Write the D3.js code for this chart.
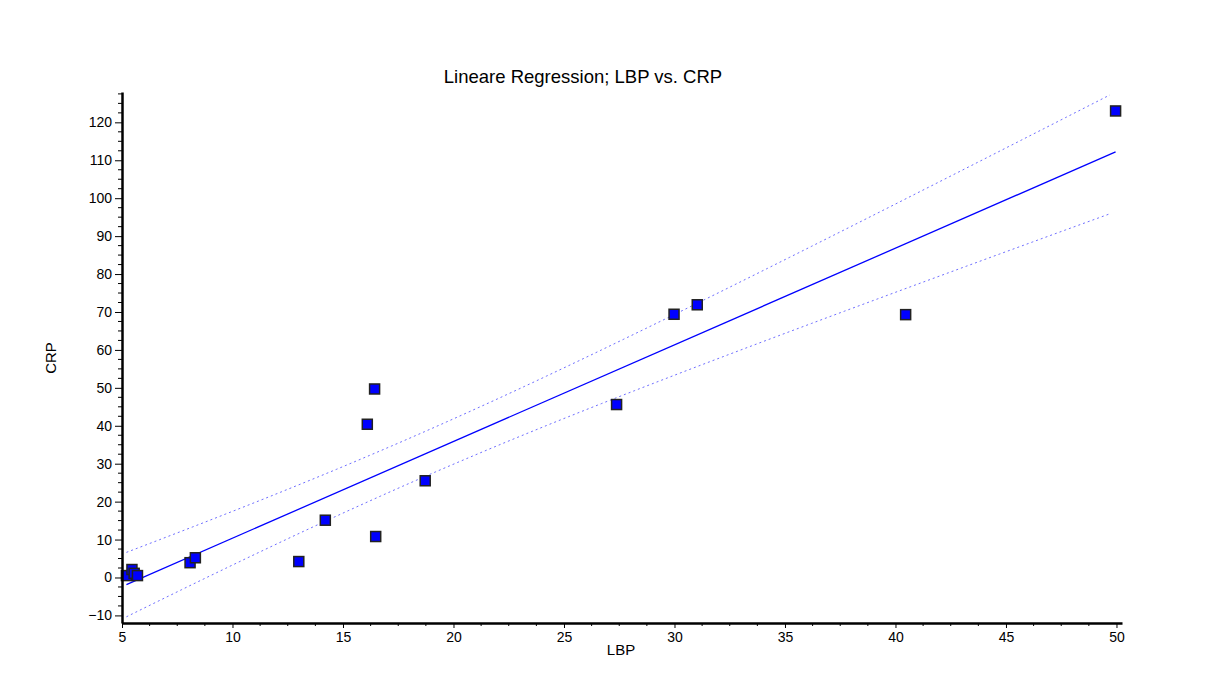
<!DOCTYPE html>
<html>
<head>
<meta charset="utf-8">
<style>
  body { margin: 0; background: #fff; }
  svg { font-family: "Liberation Sans", Arial, sans-serif; }
</style>
</head>
<body>
<div id="chart"></div>
<script src="https://d3js.org/d3.v7.min.js"></script>
<script>
// data
var lbp = [5.2, 5.45, 5.55, 5.7, 8.08, 8.32, 13.0, 14.2, 16.1, 16.43, 16.48, 18.72, 27.38, 29.98, 31.03, 40.46, 49.96];
var crp = [0.5, 2.1, 1.1, 0.5, 3.9, 5.2, 4.2, 15.1, 40.4, 49.7, 10.8, 25.5, 45.6, 69.4, 71.9, 69.3, 123.0];
var xTicks = [5, 10, 15, 20, 25, 30, 35, 40, 45, 50];
var yTicks = [-10, 0, 10, 20, 30, 40, 50, 60, 70, 80, 90, 100, 110, 120];
var tCrit = 2.131; // t(0.975, n-2 = 15)

var W = 1207, H = 694;
var plotL = 122, plotR = 1122, plotT = 92, plotB = 623;

var svg = d3.select("#chart").append("svg")
    .attr("width", W)
    .attr("height", H);

var x = d3.scaleLinear().domain([5, 50.25]).range([plotL, plotR]);
var y = d3.scaleLinear().domain([-12, 128]).range([plotB, plotT]);

// least squares fit
var pts = lbp.map(function(v, i) { return {x: v, y: crp[i]}; });
var n = pts.length;
var mx = d3.mean(lbp), my = d3.mean(crp);
var sxx = d3.sum(lbp, function(v) { return (v - mx) * (v - mx); });
var sxy = d3.sum(pts, function(p) { return (p.x - mx) * (p.y - my); });
var slope = sxy / sxx;
var icpt = my - slope * mx;
var sse = d3.sum(pts, function(p) { var r = p.y - (icpt + slope * p.x); return r * r; });
var s = Math.sqrt(sse / (n - 2));

function fit(v) { return icpt + slope * v; }
function half(v) { return tCrit * s * Math.sqrt(1 / n + (v - mx) * (v - mx) / sxx); }

var xmin = d3.min(lbp), xmax = d3.max(lbp);
var grid = d3.range(xmin, xmax, 0.5);

var line = d3.line().x(function(d) { return x(d[0]); }).y(function(d) { return y(d[1]); });

// confidence bands
[1, -1].forEach(function(sign) {
  svg.append("path")
      .attr("d", line(grid.map(function(v) { return [v, fit(v) + sign * half(v)]; })))
      .attr("fill", "none")
      .attr("stroke", "#4a4aff")
      .attr("stroke-width", 1)
      .attr("stroke-dasharray", "2,3")
      .attr("opacity", 0.8);
});

// regression line
svg.append("path")
    .attr("d", line([[xmin, fit(xmin)], [xmax, fit(xmax)]]))
    .attr("fill", "none")
    .attr("stroke", "#0000ff")
    .attr("stroke-width", 1.3);

// points
svg.append("g")
  .selectAll("rect")
  .data(pts)
  .enter().append("rect")
    .attr("x", function(d) { return x(d.x) - 5; })
    .attr("y", function(d) { return y(d.y) - 5; })
    .attr("width", 10)
    .attr("height", 10)
    .attr("fill", "#0000ff")
    .attr("stroke", "#222")
    .attr("stroke-width", 1.5);

// minor ticks
var xMinor = d3.range(5, 50.01, 1.25).filter(function(v) { return v % 5 !== 0; });
var yMinor = d3.range(-12.5, 128, 2.5).filter(function(v) { return v % 10 !== 0 && v >= -12; });

var xg = svg.append("g").attr("transform", "translate(0," + plotB + ")");
xg.call(d3.axisBottom(x).tickValues(xTicks).tickSize(5).tickPadding(4).tickSizeOuter(0));
xg.selectAll(".tick line").attr("stroke-width", 1);
xg.select(".domain").attr("stroke-width", 2.5);
xg.selectAll(".tick text").attr("font-size", 14).attr("fill", "#000");
xg.selectAll(".minor").data(xMinor).enter().append("line")
    .attr("x1", function(d) { return x(d); }).attr("x2", function(d) { return x(d); })
    .attr("y1", 0).attr("y2", 3)
    .attr("stroke", "#000");

var yg = svg.append("g").attr("transform", "translate(" + plotL + ",0)");
yg.call(d3.axisLeft(y).tickValues(yTicks).tickSize(7).tickPadding(3).tickSizeOuter(0));
yg.select(".domain").attr("stroke-width", 2.5);
yg.selectAll(".tick text").attr("font-size", 14).attr("fill", "#000");
yg.selectAll(".minor").data(yMinor).enter().append("line")
    .attr("y1", function(d) { return y(d); }).attr("y2", function(d) { return y(d); })
    .attr("x1", 0).attr("x2", -4)
    .attr("stroke", "#000");

// labels
svg.append("text")
    .attr("x", 583).attr("y", 83)
    .attr("text-anchor", "middle")
    .attr("font-size", 18.5)
    .text("Lineare Regression; LBP vs. CRP");

svg.append("text")
    .attr("x", 621).attr("y", 655)
    .attr("text-anchor", "middle")
    .attr("font-size", 15)
    .text("LBP");

svg.append("text")
    .attr("transform", "translate(56,358) rotate(-90)")
    .attr("text-anchor", "middle")
    .attr("font-size", 15)
    .text("CRP");
</script>
</body>
</html>
